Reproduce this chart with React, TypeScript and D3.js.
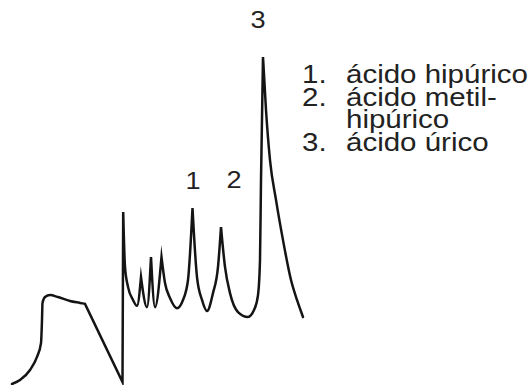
import React from "react";
import * as d3 from "d3";

// Retention time (min) and detector signal (% of tallest peak)
const times = [
  0, 0.8, 1.8, 2.5, 2.9, 3.0, 3.05, 3.3, 3.8, 4.6, 5.8, 6.8, 7.3,
  11.05, 11.12,
  11.3, 11.6, 12.1, 12.5, 12.9,
  13.5, 13.9,
  14.3, 14.95,
  15.3, 15.8, 16.5, 17.1, 17.6, 18.05,
  18.5, 19.0, 19.5, 20.1, 20.6, 20.9,
  21.3, 21.8, 22.6, 23.6, 24.2, 24.6, 24.8, 24.9, 25.1,
  25.4, 25.8, 26.4, 27.1, 27.9, 28.5, 29.1,
];
const signal = [
  0, 1.2, 4.3, 8.3, 12.5, 19.6, 24.8, 26.6, 27.2, 26.6, 25.4, 24.8, 24.5,
  0.6, 52.6,
  35.8, 29.7, 25.7, 23.9, 32.7,
  23.5, 38.8,
  23.5, 38.8,
  30.9, 26.3, 23.2, 25.7, 31.8, 53.8,
  32.7, 25.7, 22.3, 27.8, 35.8, 48.0,
  35.8, 27.8, 22.0, 20.5, 22.6, 27.2, 37.9, 62.4, 100,
  83.8, 68.5, 56.3, 44.0, 31.8, 25.7, 20.5,
];
// indices where the trace has a sharp corner (peak apex / slope change)
const cusps = [12, 13, 14, 19, 21, 23, 29, 35, 44];

const peakNumbers = ["1", "2", "3"];
const peakTimes = [18.05, 20.9, 25.1];
const legendNumbers = ["1.", "2.", "", "3."];
const legendLines = ["ácido hipúrico", "ácido metil-", "hipúrico", "ácido úrico"];

const W = 532;
const H = 385;
const FONT = "'Liberation Sans', Arial, Helvetica, sans-serif";
const STRETCH = 1.18;

export default function App() {
  const x = d3.scaleLinear().domain([0, 30]).range([12, 312]);
  const y = d3.scaleLinear().domain([0, 100]).range([384, 57]);

  const pts = times.map((t, i) => [t, signal[i]] as [number, number]);
  const bounds = [0, ...cusps, pts.length - 1];
  const line = d3
    .line<[number, number]>()
    .x((d) => x(d[0]))
    .y((d) => y(d[1]))
    .curve(d3.curveMonotoneX);
  let d = "";
  for (let k = 0; k < bounds.length - 1; k++) {
    const seg = pts.slice(bounds[k], bounds[k + 1] + 1);
    const s = line(seg) || "";
    d += k === 0 ? s : s.replace(/^M[^CLZ]*/, "");
  }

  const labelDx = [0.5, 13, -5];
  const labelY = [189, 188, 28];

  return (
    <svg
      width={W}
      height={H}
      style={{ position: "absolute", left: 0, top: 0, background: "#fff" }}
    >
      <path
        d={d}
        fill="none"
        stroke="#141414"
        strokeWidth={2.5}
        strokeLinejoin="miter"
        strokeMiterlimit={10}
        strokeLinecap="round"
      />
      {peakNumbers.map((n, i) => (
        <text
          key={n}
          transform={`translate(${x(peakTimes[i]) + labelDx[i]},${labelY[i]}) scale(${STRETCH},1)`}
          textAnchor="middle"
          fontFamily={FONT}
          fontSize={23}
          fill="#222"
        >
          {n}
        </text>
      ))}
      <g transform={`translate(302,0) scale(${STRETCH},1)`} fontFamily={FONT} fontSize={25} fill="#222">
        {legendLines.map((txt, i) => (
          <g key={i} transform={`translate(0,${83 + i * 22.7})`}>
            <text x={0}>{legendNumbers[i]}</text>
            <text x={(346 - 302) / STRETCH}>{txt}</text>
          </g>
        ))}
      </g>
    </svg>
  );
}
